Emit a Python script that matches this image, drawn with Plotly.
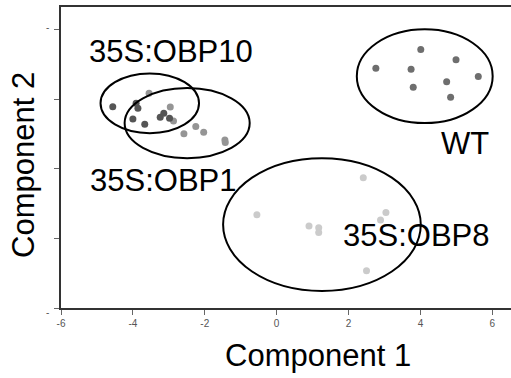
import plotly.graph_objects as go

# Data
wt_x = [4.01, 4.99, 2.76, 3.74, 5.61, 4.73, 3.80, 4.84]
wt_y = [3.44, 3.14, 2.90, 2.87, 2.66, 2.51, 2.35, 2.06]
obp10_x = [-4.56, -3.91, -3.86, -4.00, -3.67, -3.24, -3.14, -2.98]
obp10_y = [1.79, 1.89, 1.75, 1.44, 1.29, 1.49, 1.60, 1.46]
obp1_x = [-3.55, -2.96, -2.87, -2.58, -2.25, -2.03, -1.44, -1.43]
obp1_y = [2.18, 1.78, 1.38, 1.01, 1.22, 1.06, 0.83, 0.76]
obp8_x = [2.41, -0.55, 0.90, 1.17, 1.17, 3.04, 2.89, 2.50]
obp8_y = [-0.25, -1.32, -1.64, -1.69, -1.83, -1.25, -1.47, -2.93]

# ellipses: name, cx, cy, rx, ry
ellipses = [
    ("WT", 4.12, 2.67, 1.89, 1.35),
    ("35S:OBP10", -3.53, 1.89, 1.37, 0.86),
    ("35S:OBP1", -2.49, 1.32, 1.74, 1.01),
    ("35S:OBP8", 1.26, -1.60, 2.75, 1.91),
]
labels = ["35S:OBP10", "35S:OBP1", "WT", "35S:OBP8"]
label_x = [-2.95, -3.17, 5.24, 3.87]
label_y = [3.38, -0.32, 0.72, -1.91]

x_ticks = [-6, -4, -2, 0, 2, 4, 6]
x_ticktext = ["-6", "-4", "-2", "0", "2", "4", "6"]
y_ticks = [-4, -2, 0, 2, 4]

FONT = "Liberation Sans, Arial, sans-serif"

# plot area geometry (pixels)
L, R, T, B = 61, 0, 7, 70
W, H = 511, 378
PW, PH = W - L - R, H - T - B


def px(xp):
    return (xp - L) / PW


def py(yp):
    return (H - B - yp) / PH


fig = go.Figure()
series = [
    (obp8_x, obp8_y, "#cbcbcb"),
    (obp1_x, obp1_y, "#959595"),
    (obp10_x, obp10_y, "#555555"),
    (wt_x, wt_y, "#6e6e6e"),
]
for xs, ys, c in series:
    fig.add_trace(go.Scatter(x=xs, y=ys, mode="markers",
                             marker=dict(size=7, color=c, line=dict(width=0)),
                             showlegend=False, hoverinfo="skip"))

for name, cx, cy, rx, ry in ellipses:
    fig.add_shape(type="circle", xref="x", yref="y",
                  x0=cx - rx, x1=cx + rx, y0=cy - ry, y1=cy + ry,
                  line=dict(color="black", width=2))

for t, lx, ly in zip(labels, label_x, label_y):
    fig.add_annotation(x=lx, y=ly, text=t, showarrow=False, xref="x", yref="y",
                       font=dict(family=FONT, size=31, color="black"))

fig.add_annotation(x=px(317.5), y=py(355), xref="paper", yref="paper",
                   text="Component 1", showarrow=False,
                   xanchor="center", yanchor="middle",
                   font=dict(family=FONT, size=31, color="black"))
fig.add_annotation(x=px(23), y=py(165), xref="paper", yref="paper",
                   text="Component 2", textangle=-90, showarrow=False,
                   xanchor="center", yanchor="middle",
                   font=dict(family=FONT, size=31, color="black"))
# the two little dashes at the ends of the y axis
for yy in (27.5, 312.5):
    fig.add_annotation(x=px(47.5), y=py(yy), xref="paper", yref="paper",
                       text="-", showarrow=False, xanchor="center", yanchor="middle",
                       font=dict(family=FONT, size=10, color="#555"))

fig.update_layout(
    width=W, height=H,
    margin=dict(l=L, r=R, t=T, b=B),
    paper_bgcolor="white", plot_bgcolor="white",
    font=dict(family=FONT),
    xaxis=dict(range=[-6, 6.52], tickvals=x_ticks, ticktext=x_ticktext,
               ticks="outside", ticklen=5,
               tickcolor="#666", tickfont=dict(size=10, color="#555"),
               showline=True, linecolor="#333", linewidth=1.5, mirror=True,
               showgrid=False, zeroline=False),
    yaxis=dict(range=[-4, 4.66], tickvals=y_ticks, ticktext=[""] * len(y_ticks),
               ticks="outside", ticklen=5, tickcolor="#666",
               showline=True, linecolor="#333", linewidth=1.5, mirror=False,
               showgrid=False, zeroline=False),
)

fig.write_html("out.html")
